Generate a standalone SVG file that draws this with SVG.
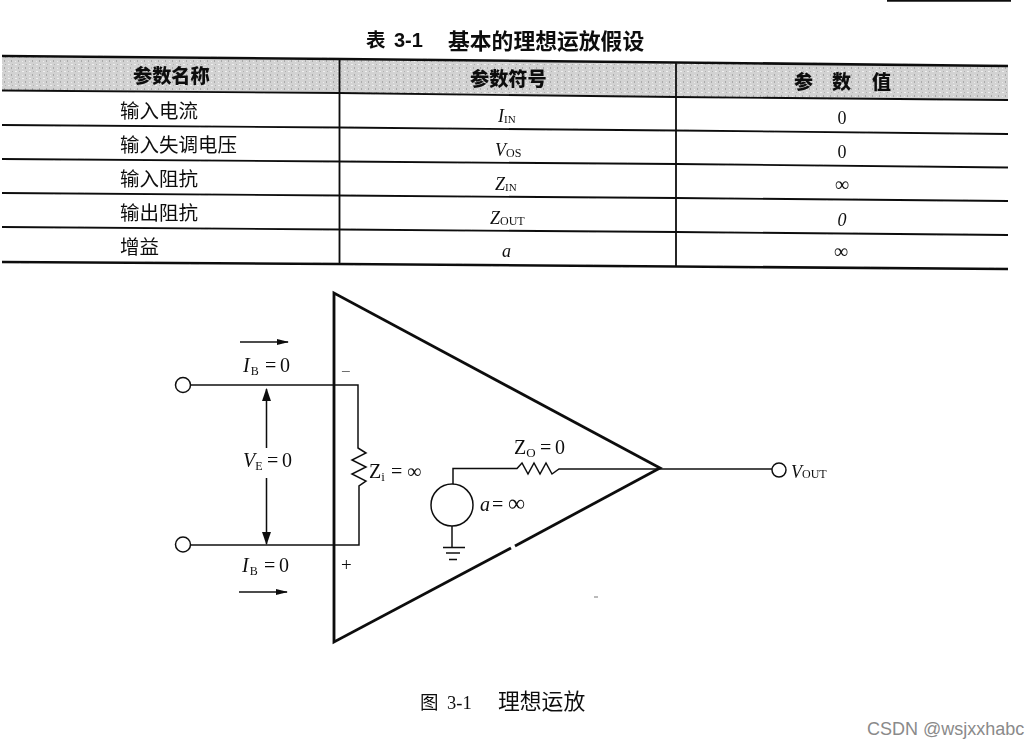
<svg xmlns="http://www.w3.org/2000/svg" width="1030" height="747" viewBox="0 0 1030 747">
<style>
.ser{font-family:"Liberation Serif","Noto Sans CJK SC",serif;fill:#111}
.cn{font-family:"Noto Sans CJK SC","Liberation Sans",sans-serif;fill:#111}
.b{font-weight:700}
.h{font-weight:900}
.rule{stroke:#111;stroke-width:1.8;fill:none}
.heavy{stroke:#111;stroke-width:2.6;fill:none}
.wire{stroke:#111;stroke-width:1.5;fill:none}
.tri{stroke:#111;stroke-width:2.8;fill:none;stroke-linejoin:miter}
.term{stroke:#111;stroke-width:1.5;fill:#fff}
.i{font-style:italic}
</style>
<defs>
<filter id="scan" x="0" y="0" width="100%" height="100%"><feGaussianBlur stdDeviation="0.45"/></filter>
<pattern id="sp" width="7" height="7" patternUnits="userSpaceOnUse">
<rect width="7" height="7" fill="#d2d2d2"/>
<rect x="1" y="1" width="2" height="1" fill="#f0f0f0"/><rect x="4" y="4" width="1" height="2" fill="#a9a9a9"/><rect x="5" y="1" width="1" height="1" fill="#b0b0b0"/><rect x="1" y="5" width="1" height="1" fill="#ececec"/>
</pattern>
<marker id="ah" markerWidth="12" markerHeight="7" refX="11" refY="3.500" orient="auto-start-reverse" markerUnits="userSpaceOnUse"><path d="M0 0.500L12 3.500L0 6.500Z" fill="#111"/></marker>
<marker id="av" markerWidth="13" markerHeight="9" refX="12" refY="4.500" orient="auto-start-reverse" markerUnits="userSpaceOnUse"><path d="M0 0L13 4.500L0 9Z" fill="#111"/></marker>
</defs>
<rect width="1030" height="747" fill="#fff"/>
<g filter="url(#scan)">
<g id="table">
<polygon points="2,57 340,60 676,63 1008,67 1008,100 676,97 340,93 2,90" fill="url(#sp)"/>
<path class="heavy" d="M2 56L340 59L676 62.500L1008 66"/>
<path class="rule" d="M2 90.500L340 93L676 97L1008 100"/>
<path class="rule" d="M2 125L340 127.500L676 130.500L1008 134"/>
<path class="rule" d="M2 159L340 161.500L676 164L1008 167.500"/>
<path class="rule" d="M2 193L340 195.500L676 198L1008 201"/>
<path class="rule" d="M2 227L340 229.500L676 232L1008 235"/>
<path class="heavy" d="M2 262L340 264L676 266.500L1008 269"/>
<path class="rule" d="M339.500 59V264M676 62V266"/>
<path class="heavy" d="M887 0.500H1011"/>
<text class="cn b" x="366" y="47" font-size="19.500">表</text>
<text x="394" y="47" font-size="20" font-weight="700" fill="#111" font-family="'Liberation Sans',sans-serif">3-1</text>
<text class="cn b" x="448" y="49" font-size="21.800">基本的理想运放假设</text>
<text class="cn h" x="133" y="83" font-size="19.200">参数名称</text>
<text class="cn h" x="470" y="86" font-size="19.200">参数符号</text>
<text class="cn h" x="794" y="89" font-size="19">参</text><text class="cn h" x="832" y="89" font-size="19">数</text><text class="cn h" x="872" y="89" font-size="19">值</text>
<text class="cn" x="120" y="118" font-size="19.500">输入电流</text>
<text class="cn" x="120" y="152" font-size="19.500">输入失调电压</text>
<text class="cn" x="120" y="186" font-size="19.500">输入阻抗</text>
<text class="cn" x="120" y="220" font-size="19.500">输出阻抗</text>
<text class="cn" x="120" y="254" font-size="19.500">增益</text>
<text class="ser i" x="498" y="122" font-size="18">I<tspan font-size="11" dy="1" font-style="normal">IN</tspan></text>
<text class="ser i" x="495" y="156" font-size="18">V<tspan font-size="12" dy="1" font-style="normal">OS</tspan></text>
<text class="ser i" x="495" y="190" font-size="18">Z<tspan font-size="11" dy="1" font-style="normal">IN</tspan></text>
<text class="ser i" x="490" y="224" font-size="18">Z<tspan font-size="12" dy="1" font-style="normal">OUT</tspan></text>
<text class="ser i" x="502" y="257" font-size="18">a</text>
<text class="ser" x="842" y="124" font-size="18" text-anchor="middle">0</text>
<text class="ser" x="842" y="158" font-size="18" text-anchor="middle">0</text>
<text class="ser" x="842" y="191" font-size="20" text-anchor="middle">∞</text>
<text class="ser i" x="842" y="226" font-size="18" text-anchor="middle">0</text>
<text class="ser" x="841" y="258" font-size="20" text-anchor="middle">∞</text>
</g>
<g id="connectors">
<path class="wire" d="M191 385H358V448L366 453L352 460L366 467L352 474L366 481L359 486V545H191"/>
<path class="wire" d="M453 485V468.500H517L522 463L528 474L534 463L540 474L546 463L552 474L559 469H772"/>
<path class="wire" d="M452 525V548"/>
<path class="wire" marker-end="url(#ah)" d="M240 342H288"/>
<path class="wire" marker-end="url(#ah)" d="M239 592H287"/>
<path class="wire" marker-start="url(#av)" d="M266.500 389V448"/>
<path class="wire" marker-end="url(#av)" d="M266.500 478V544"/>
</g>
<g id="opamp">
<path class="tri" d="M511 548L334 642V293L660 468L515 546"/>
<text x="341" y="377" font-size="17" fill="#555" font-family="'Liberation Serif',serif">−</text>
<text x="341" y="571" font-size="19" fill="#111" font-family="'Liberation Serif',serif">+</text>
</g>
<g id="source"><circle class="term" cx="452" cy="505" r="21"/></g>
<g id="ground"><path class="wire" d="M443 547.500H465M446 553H460M449 559.500H457"/></g>
<g id="input-neg"><circle class="term" cx="183" cy="385" r="7.500"/></g>
<g id="input-pos"><circle class="term" cx="183" cy="544.500" r="7.500"/></g>
<g id="output"><circle class="term" cx="779" cy="470" r="7"/></g>
<g id="labels">
<text class="ser i" x="243" y="372" font-size="20">I<tspan font-size="12" dy="3" dx="1" font-style="normal">B</tspan><tspan dy="-3" x="265" font-style="normal">=</tspan><tspan x="280" font-style="normal">0</tspan></text>
<text class="ser i" x="242" y="572" font-size="20">I<tspan font-size="12" dy="3" dx="1" font-style="normal">B</tspan><tspan dy="-3" x="264" font-style="normal">=</tspan><tspan x="279" font-style="normal">0</tspan></text>
<text class="ser i" x="243" y="467" font-size="20">V<tspan font-size="12" dy="3" font-style="normal">E</tspan><tspan dy="-3" x="267" font-style="normal">=</tspan><tspan x="282" font-style="normal">0</tspan></text>
<text class="ser" x="369" y="478" font-size="20">Z<tspan font-size="13" dy="3">i</tspan><tspan dy="-3" x="391">=</tspan><tspan x="407">∞</tspan></text>
<text class="ser" x="514" y="454" font-size="20">Z<tspan font-size="13" dy="3">O</tspan><tspan dy="-3" x="540">=</tspan><tspan x="555">0</tspan></text>
<text class="ser" x="480" y="511" font-size="20"><tspan font-style="italic">a</tspan><tspan x="492">=</tspan><tspan x="508" font-size="24">∞</tspan></text>
<text class="ser i" x="791" y="478" font-size="18">V<tspan font-size="12" font-style="normal">OUT</tspan></text>
<text class="cn" x="420" y="709" font-size="18.500">图</text>
<text class="ser" x="447" y="709" font-size="18.500">3-1</text>
<text class="cn" x="498" y="709" font-size="21.800">理想运放</text>
</g>
<path d="M594 597h4" stroke="#777" stroke-width="1"/>
</g>
<text x="867" y="735" font-size="18" fill="#8a8a8a" font-family="'Liberation Sans',sans-serif">CSDN @wsjxxhabc</text>
</svg>
